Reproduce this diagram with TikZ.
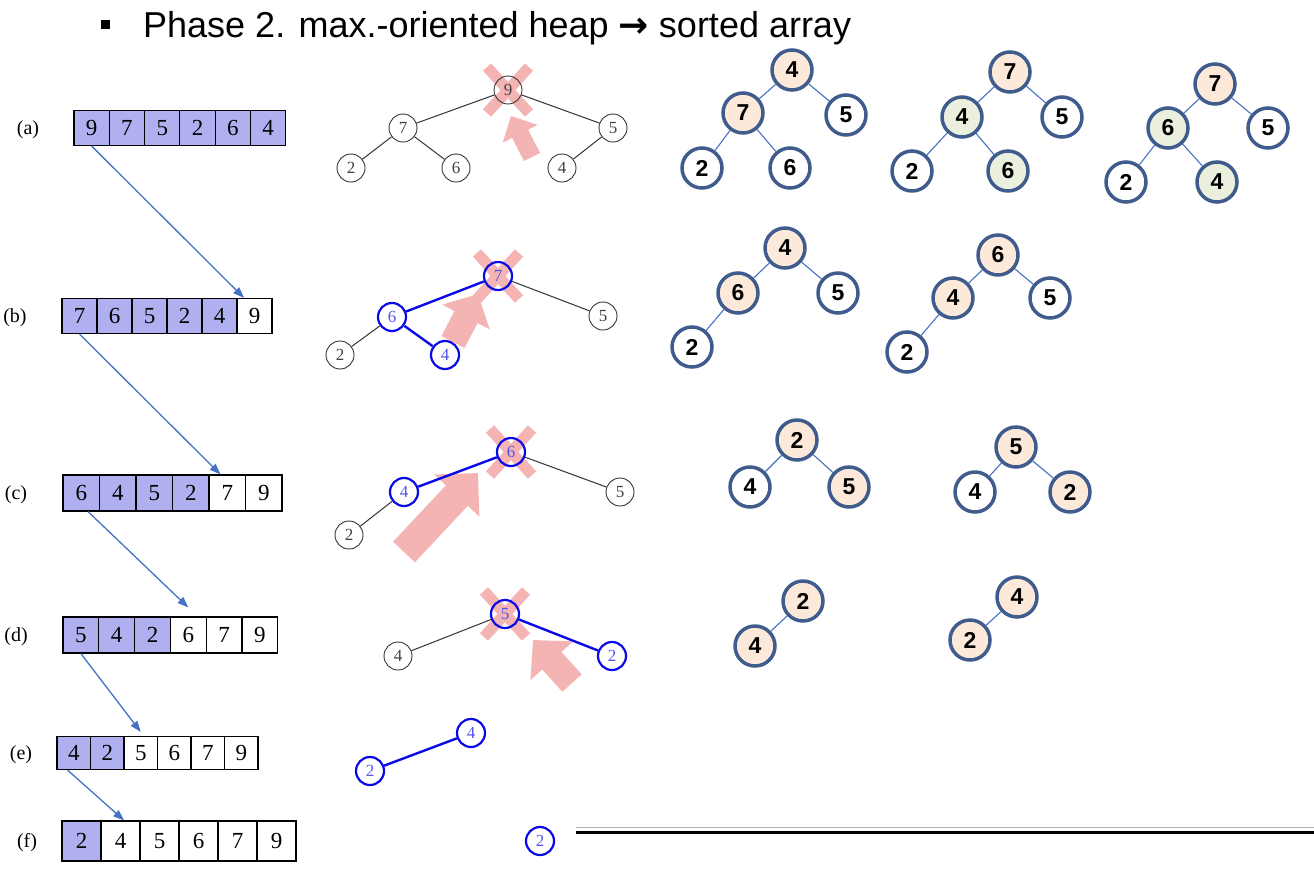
\documentclass[tikz,border=0pt]{standalone}
\usepackage{fontspec}
\setmainfont{Liberation Serif}
\setsansfont{Liberation Sans}
\newfontfamily\symfont{DejaVu Sans}
\usetikzlibrary{arrows.meta, backgrounds}

\definecolor{lav}{RGB}{176,176,240}
\definecolor{steel}{RGB}{68,114,196}
\definecolor{ring}{RGB}{64,92,140}
\definecolor{peach}{RGB}{252,233,218}
\definecolor{sage}{RGB}{235,240,222}
\definecolor{hblue}{RGB}{10,10,230}
\definecolor{pinkx}{RGB}{244,180,180}

\begin{document}
\begin{tikzpicture}[x=1pt, y=-1pt,
  cell/.style={draw, line width=1.1pt, inner sep=0pt, font=\fontsize{23}{23}\selectfont},
  tag/.style={font=\fontsize{20}{20}\selectfont},
  link/.style={steel, line width=1.3pt, -{Triangle[length=11pt, width=8pt]}},
  tnode/.style={circle, draw=black!80, line width=0.9pt, minimum size=28pt, inner sep=0pt,
                text=black!75, font=\fontsize{17}{17}\selectfont},
  hnode/.style={tnode, draw=hblue, line width=2.2pt, text=hblue!70},
  tedge/.style={black!80, line width=1pt},
  hedge/.style={hblue, line width=2.4pt},
  cross/.style={pinkx, line width=11pt},
  push/.style n args={3}{pinkx, line width=#1, -{Triangle[width=#2, length=#3]}},
  snode/.style={circle, draw=ring, line width=3.5pt, minimum size=40pt, inner sep=0pt,
                fill=white, font=\sffamily\bfseries\fontsize{23}{23}\selectfont},
  hot/.style={snode, fill=peach},
  mid/.style={snode, fill=sage},
  sedge/.style={steel, line width=1.1pt}
]
\useasboundingbox (0,0) rectangle (1314,876);

% title
\node[fill, minimum size=9pt, inner sep=0pt] (bullet) at (105,24) {};
\node[anchor=base west, inner sep=0pt, font=\sffamily\fontsize{36}{36}\selectfont] (title) at (143,37)
  {Phase 2. max.-oriented heap {\symfont\bfseries →} sorted array};

% arrays (a)--(f)
\foreach \r/\lx/\x/\y/\w/\h/\k/\vals in {
    a/28/74/128/35.3/35/6/{9,7,5,2,6,4},
    b/15/62/316/35/35/5/{7,6,5,2,4,9},
    c/16/63/493/36.5/36/4/{6,4,5,2,7,9},
    d/16/63/635/35.8/36/3/{5,4,2,6,7,9},
    e/21/57/753/33.5/33/2/{4,2,5,6,7,9},
    f/27/62/841/39/40/1/{2,4,5,6,7,9}}{
  \node[tag] (lbl\r) at (\lx,\y+2) {(\r)};
  \foreach \v [count=\i] in \vals {
    \ifnum\i>\k\def\cf{white}\else\def\cf{lav}\fi
    \node[cell, minimum width=\w, minimum height=\h, fill=\cf] (r\r\i) at ({\x+\w*(\i-0.5)},\y) {\v};
  }
}
\draw[link] (ra1.south) -- (rb6.120);
\draw[link] (rb1.south) -- (rc5.110);
\draw[link] (rc1.-70) -- ([yshift=9pt]rd4.north);
\draw[link] (rd1.south) -- ([yshift=4pt]re3.north);
\draw[link] (re1.-110) -- (rf2.80);

% heaps, textbook style
\node[tnode] (ha9) at (508,90) {9};
\node[tnode] (ha7) at (403,128) {7};
\node[tnode] (ha5) at (613,128) {5};
\node[tnode] (ha2) at (351,168) {2};
\node[tnode] (ha6) at (456,168) {6};
\node[tnode] (ha4) at (562,168) {4};
\draw[tedge] (ha9) -- (ha7);
\draw[tedge] (ha9) -- (ha5);
\draw[tedge] (ha7) -- (ha2);
\draw[tedge] (ha7) -- (ha6);
\draw[tedge] (ha5) -- (ha4);

\node[hnode] (hb7) at (498,276) {7};
\node[hnode] (hb6) at (392,317) {6};
\node[tnode] (hb5) at (603,316) {5};
\node[tnode] (hb2) at (340,355) {2};
\node[hnode] (hb4) at (445,355) {4};
\draw[hedge] (hb7) -- (hb6);
\draw[hedge] (hb6) -- (hb4);
\draw[tedge] (hb7) -- (hb5);
\draw[tedge] (hb6) -- (hb2);

\node[hnode] (hc6) at (511,452) {6};
\node[hnode] (hc4) at (404,492) {4};
\node[tnode] (hc5) at (620,492) {5};
\node[tnode] (hc2) at (349,535) {2};
\draw[hedge] (hc6) -- (hc4);
\draw[tedge] (hc4) -- (hc2);
\draw[tedge] (hc6) -- (hc5);

\node[hnode] (hd5) at (505,614) {5};
\node[tnode] (hd4) at (398,656) {4};
\node[hnode] (hd2) at (612,656) {2};
\draw[tedge] (hd5) -- (hd4);
\draw[hedge] (hd5) -- (hd2);

\node[hnode] (he4) at (471,733) {4};
\node[hnode] (he2) at (370,771) {2};
\draw[hedge] (he4) -- (he2);

\node[hnode] (hf2) at (540,841) {2};
\draw[black!30, line width=1.2pt] (576,827.5) -- (1314,827.5);
\draw[black, line width=3.8pt] (576,832.5) -- (1314,832.5);

% removed roots and sift-down hints
\coordinate (pa0) at (532,157); \coordinate (pa1) at (511,116);
\coordinate (pb0) at (453,342); \coordinate (pb1) at (478,294);
\coordinate (pc0) at (404,552); \coordinate (pc1) at (478,473);
\coordinate (pd0) at (572,683); \coordinate (pd1) at (533,640);
\begin{scope}[on background layer]
  \foreach \n in {ha9,hb7,hc6,hd5}{
    \draw[cross] ([shift={(-21,-23)}]\n.center) -- ([shift={(21,23)}]\n.center);
    \draw[cross] ([shift={(21,-23)}]\n.center) -- ([shift={(-21,23)}]\n.center);
  }
  \draw[push={18pt}{38pt}{20pt}] (pa0) -- (pa1);
  \draw[push={26pt}{52pt}{26pt}] (pb0) -- (pb1);
  \draw[push={30pt}{60pt}{31pt}] (pc0) -- (pc1);
  \draw[push={26pt}{56pt}{28pt}] (pd0) -- (pd1);
\end{scope}

% swap steps
\node[hot] (A1r) at (792,70) {4};
\node[hot] (A1l) at (743,113) {7};
\node[snode] (A1R) at (846,115) {5};
\node[snode] (A1ll) at (702,168) {2};
\node[snode] (A1lr) at (790,168) {6};
\draw[sedge] (A1r) -- (A1l); \draw[sedge] (A1r) -- (A1R);
\draw[sedge] (A1l) -- (A1ll); \draw[sedge] (A1l) -- (A1lr);

\node[hot] (A2r) at (1010,72) {7};
\node[mid] (A2l) at (962,117) {4};
\node[snode] (A2R) at (1062,117) {5};
\node[snode] (A2ll) at (912,171) {2};
\node[mid] (A2lr) at (1008,171) {6};
\draw[sedge] (A2r) -- (A2l); \draw[sedge] (A2r) -- (A2R);
\draw[sedge] (A2l) -- (A2ll); \draw[sedge] (A2l) -- (A2lr);

\node[hot] (A3r) at (1215,84) {7};
\node[mid] (A3l) at (1168,128) {6};
\node[snode] (A3R) at (1268,128) {5};
\node[snode] (A3ll) at (1126,182) {2};
\node[mid] (A3lr) at (1217,182) {4};
\draw[sedge] (A3r) -- (A3l); \draw[sedge] (A3r) -- (A3R);
\draw[sedge] (A3l) -- (A3ll); \draw[sedge] (A3l) -- (A3lr);

\node[hot] (B1r) at (785,248) {4};
\node[hot] (B1l) at (738,293) {6};
\node[snode] (B1R) at (838,293) {5};
\node[snode] (B1ll) at (692,347) {2};
\draw[sedge] (B1r) -- (B1l); \draw[sedge] (B1r) -- (B1R);
\draw[sedge] (B1l) -- (B1ll);

\node[hot] (B2r) at (998,255) {6};
\node[hot] (B2l) at (953,298) {4};
\node[snode] (B2R) at (1050,298) {5};
\node[snode] (B2ll) at (907,352) {2};
\draw[sedge] (B2r) -- (B2l); \draw[sedge] (B2r) -- (B2R);
\draw[sedge] (B2l) -- (B2ll);

\node[hot] (C1r) at (797,440) {2};
\node[snode] (C1l) at (750,487) {4};
\node[hot] (C1R) at (849,487) {5};
\draw[sedge] (C1r) -- (C1l); \draw[sedge] (C1r) -- (C1R);

\node[hot] (C2r) at (1016,447) {5};
\node[snode] (C2l) at (975,492) {4};
\node[hot] (C2R) at (1070,492) {2};
\draw[sedge] (C2r) -- (C2l); \draw[sedge] (C2r) -- (C2R);

\node[hot] (D1r) at (803,601) {2};
\node[hot] (D1l) at (755,646) {4};
\draw[sedge] (D1r) -- (D1l);

\node[hot] (D2r) at (1017,597) {4};
\node[hot] (D2l) at (970,640) {2};
\draw[sedge] (D2r) -- (D2l);
\end{tikzpicture}
\end{document}
